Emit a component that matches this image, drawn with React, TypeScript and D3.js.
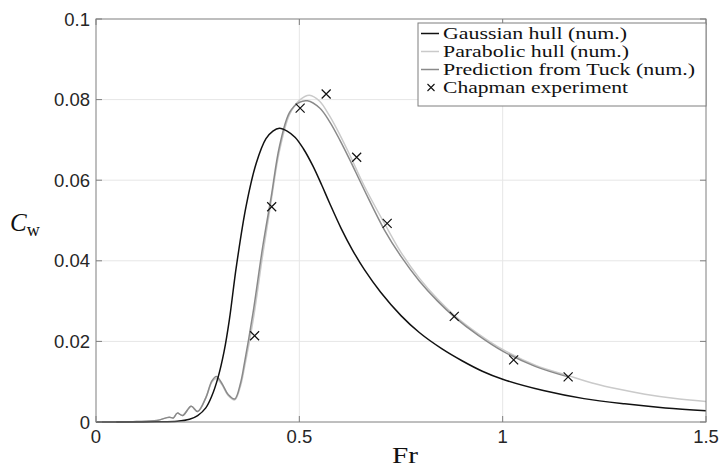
import * as d3 from "d3";

// Gaussian hull (num.)
const gaussFr = [0, 0.1, 0.15, 0.2, 0.23, 0.25, 0.27, 0.285, 0.3, 0.315, 0.328, 0.345, 0.369, 0.394, 0.418, 0.435, 0.451, 0.47, 0.49, 0.51, 0.533, 0.555, 0.574, 0.603, 0.63, 0.66, 0.7, 0.75, 0.795, 0.85, 0.9, 0.95, 1.0, 1.1, 1.2, 1.3, 1.4, 1.5];
const gaussCw = [0, 0, 0.00005, 0.0002, 0.0007, 0.0016, 0.0035, 0.0065, 0.011, 0.0175, 0.0254, 0.0385, 0.0535, 0.0642, 0.0703, 0.0722, 0.0729, 0.0722, 0.0706, 0.0678, 0.0636, 0.0588, 0.0544, 0.048, 0.0428, 0.0378, 0.0322, 0.0264, 0.0222, 0.0182, 0.0152, 0.0126, 0.0106, 0.0078, 0.0058, 0.0045, 0.0035, 0.0028];

// Parabolic hull (num.)
const paraFr = [0.05, 0.1, 0.15, 0.18, 0.19, 0.2, 0.213, 0.234, 0.25, 0.27, 0.285, 0.296, 0.31, 0.325, 0.341, 0.355, 0.365, 0.386, 0.41, 0.431, 0.451, 0.476, 0.5, 0.525, 0.55, 0.574, 0.6, 0.623, 0.66, 0.718, 0.75, 0.795, 0.84, 0.881, 0.94, 1.0, 1.08, 1.161, 1.22, 1.287, 1.35, 1.42, 1.5];
const paraCw = [0, 0.0001, 0.0004, 0.0012, 0.001, 0.0022, 0.0016, 0.0039, 0.0026, 0.006, 0.0099, 0.0108, 0.0092, 0.0066, 0.0055, 0.0088, 0.0135, 0.025, 0.0415, 0.055, 0.0672, 0.0763, 0.0798, 0.0811, 0.0796, 0.076, 0.0712, 0.0665, 0.0585, 0.0477, 0.0421, 0.0357, 0.0305, 0.0265, 0.0219, 0.018, 0.0141, 0.0115, 0.0097, 0.0081, 0.0069, 0.0059, 0.0051];

// Prediction from Tuck (num.)
const tuckFr = [0.05, 0.1, 0.15, 0.18, 0.19, 0.2, 0.213, 0.234, 0.25, 0.27, 0.285, 0.296, 0.31, 0.325, 0.341, 0.355, 0.365, 0.386, 0.41, 0.431, 0.451, 0.476, 0.5, 0.52, 0.55, 0.574, 0.6, 0.623, 0.66, 0.709, 0.75, 0.795, 0.84, 0.881, 0.94, 1.0, 1.08, 1.161];
const tuckCw = [0, 0.0001, 0.0004, 0.0012, 0.001, 0.0022, 0.0016, 0.0039, 0.0026, 0.006, 0.0102, 0.0113, 0.0095, 0.0068, 0.0057, 0.0095, 0.0146, 0.027, 0.0435, 0.056, 0.0683, 0.0768, 0.0793, 0.0797, 0.0779, 0.0746, 0.0699, 0.0653, 0.0575, 0.0477, 0.0411, 0.035, 0.03, 0.0261, 0.0215, 0.0176, 0.0138, 0.0112];

// Chapman experiment
const chapFr = [0.39, 0.432, 0.502, 0.566, 0.641, 0.716, 0.881, 1.027, 1.161];
const chapCw = [0.0214, 0.0534, 0.0779, 0.0814, 0.0657, 0.0493, 0.0262, 0.0154, 0.0112];

const xTicks = [0, 0.5, 1, 1.5];
const yTicks = [0, 0.02, 0.04, 0.06, 0.08, 0.1];
const legendLabels = ["Gaussian hull (num.)", "Parabolic hull (num.)", "Prediction from Tuck (num.)", "Chapman experiment"];

const W = 719;
const H = 472;
const margin = { top: 19, right: 13, bottom: 50, left: 96 };

export default function App() {
  const x = d3.scaleLinear().domain([0, 1.5]).range([margin.left, W - margin.right]);
  const y = d3.scaleLinear().domain([0, 0.1]).range([H - margin.bottom, margin.top]);

  const line = d3
    .line<[number, number]>()
    .x((d) => x(d[0]))
    .y((d) => y(d[1]))
    .curve(d3.curveCatmullRom.alpha(0.5));

  const zip = (a: number[], b: number[]) => a.map((v, i) => [v, b[i]] as [number, number]);

  const series = [
    { pts: zip(paraFr, paraCw), color: "#cacaca" },
    { pts: zip(tuckFr, tuckCw), color: "#8a8a8a" },
    { pts: zip(gaussFr, gaussCw), color: "#111111" },
  ];

  const x0 = x(0), x1 = x(1.5), y0 = y(0), y1 = y(0.1);
  const tick = 6;
  const axisColor = "#7f7f7f";
  const textColor = "#262626";

  const cross = (cx: number, cy: number, s = 4.5) =>
    `M${cx - s},${cy - s}L${cx + s},${cy + s}M${cx - s},${cy + s}L${cx + s},${cy - s}`;

  // legend
  const lx = 418, ly = 23, lw = 288, lh = 83;
  const rowY = [33.5, 51.5, 69.5, 87.5];
  const legendWidths = [184, 186, 252, 185];
  const legendColors = ["#111111", "#cacaca", "#8a8a8a"];

  return (
    <div style={{ position: "absolute", left: 0, top: 0 }}>
      <svg width={W} height={H} style={{ display: "block", background: "#fff" }}>
        {/* grid */}
        {xTicks.slice(1, -1).map((t) => (
          <line key={"gx" + t} x1={x(t)} x2={x(t)} y1={y0} y2={y1} stroke="#e6e6e6" strokeWidth={1} />
        ))}
        {yTicks.slice(1, -1).map((t) => (
          <line key={"gy" + t} x1={x0} x2={x1} y1={y(t)} y2={y(t)} stroke="#e6e6e6" strokeWidth={1} />
        ))}

        {/* curves */}
        {series.map((s, i) => (
          <path key={i} d={line(s.pts) || ""} fill="none" stroke={s.color} strokeWidth={1.5} />
        ))}

        {/* markers */}
        {chapFr.map((f, i) => (
          <path key={"m" + i} d={cross(x(f), y(chapCw[i]))} stroke="#111" strokeWidth={1.2} fill="none" />
        ))}

        {/* axes box */}
        <rect x={x0} y={y1} width={x1 - x0} height={y0 - y1} fill="none" stroke={axisColor} strokeWidth={1} />
        {xTicks.map((t) => (
          <g key={"xt" + t}>
            <line x1={x(t)} x2={x(t)} y1={y0} y2={y0 - tick} stroke={axisColor} />
            <line x1={x(t)} x2={x(t)} y1={y1} y2={y1 + tick} stroke={axisColor} />
            <text x={x(t)} y={y0 + 21} textAnchor="middle" fontFamily="Liberation Sans, Arial, sans-serif" fontSize={18.5} fill={textColor}>
              {t}
            </text>
          </g>
        ))}
        {yTicks.map((t) => (
          <g key={"yt" + t}>
            <line x1={x0} x2={x0 + tick} y1={y(t)} y2={y(t)} stroke={axisColor} />
            <line x1={x1} x2={x1 - tick} y1={y(t)} y2={y(t)} stroke={axisColor} />
            <text x={x0 - 6} y={y(t) + 6.5} textAnchor="end" fontFamily="Liberation Sans, Arial, sans-serif" fontSize={18.5} fill={textColor}>
              {t}
            </text>
          </g>
        ))}

        {/* axis labels */}
        <text x={392} y={463} fontFamily="Liberation Serif, serif" fontSize={24} fill="#111" textLength={26} lengthAdjust="spacingAndGlyphs">
          Fr
        </text>
        <text x={10} y={231} fontFamily="Liberation Serif, serif" fill="#111">
          <tspan fontStyle="italic" fontSize={25}>C</tspan>
          <tspan fontSize={18} dy={5}>w</tspan>
        </text>

        {/* legend */}
        <rect x={lx} y={ly} width={lw} height={lh} fill="#fff" stroke={axisColor} strokeWidth={1} />
        {legendLabels.map((lab, i) => (
          <g key={"lg" + i}>
            {i < 3 ? (
              <line x1={421} x2={439} y1={rowY[i]} y2={rowY[i]} stroke={legendColors[i]} strokeWidth={1.5} />
            ) : (
              <path d={cross(431, rowY[i], 3.5)} stroke="#111" strokeWidth={1.1} fill="none" />
            )}
            <text
              x={443}
              y={rowY[i] + 5.5}
              fontFamily="Liberation Serif, serif"
              fontSize={17.5}
              fill="#111"
              textLength={legendWidths[i]}
              lengthAdjust="spacingAndGlyphs"
            >
              {lab}
            </text>
          </g>
        ))}
      </svg>
    </div>
  );
}
